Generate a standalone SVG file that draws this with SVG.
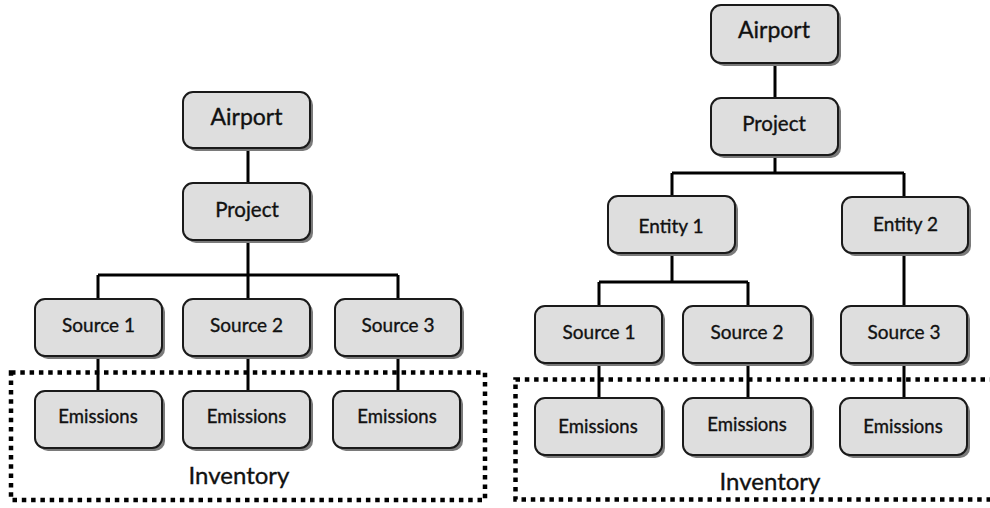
<svg xmlns="http://www.w3.org/2000/svg" width="990" height="508" viewBox="0 0 990 508">
<style>
.box rect.s{fill:#7a7a7a}
.box rect.b{fill:#dedede;stroke:#1a1a1a;stroke-width:2}
.box text,.lbl{font-family:Lato,"Open Sans","Liberation Sans",sans-serif;fill:#111;stroke:#111;stroke-width:0.35;text-anchor:middle}
.t23{font-size:23px}
.t20{font-size:20.5px}
.t18{font-size:19px}
.t185{font-size:18.5px}
.lbl{font-size:24px}
#connectors path{stroke:#000;stroke-width:3;fill:none}
.inv{fill:none;stroke:#000;stroke-width:4.5;stroke-dasharray:4.5 4.8}
</style>
<rect width="990" height="508" fill="#fff"/>
<g id="connectors">
<path d="M248 148V183M248 240V275M98 275H398M98 275V299M248 275V299M398 275V299M98 356V391M248 356V391M398 356V391"/>
<path d="M775 63V98M775 155V173M672 173H904M672 173V196M904 173V197M672 253V282M599 282H748M599 282V306M748 282V306M904 253V306M599 363V398M748 363V398M904 363V398"/>
</g>
<g id="inventory-left"><rect class="inv" x="11" y="372.5" width="474" height="127.5"/><text class="lbl" x="239" y="484">Inventory</text></g>
<g id="inventory-right"><rect class="inv" x="515.5" y="379.5" width="480" height="120"/><text class="lbl" x="770" y="490">Inventory</text></g>
<g id="l-airport" class="box"><rect class="s" x="186" y="95" width="127" height="56" rx="10"/><rect class="b" x="183" y="92" width="127" height="56" rx="10"/><text class="t23" x="246.5" y="125">Airport</text></g>
<g id="l-project" class="box"><rect class="s" x="186" y="186" width="127" height="57" rx="10"/><rect class="b" x="183" y="183" width="127" height="57" rx="10"/><text class="t20" x="247" y="217">Project</text></g>
<g id="l-source1" class="box"><rect class="s" x="38" y="302" width="127" height="57" rx="10"/><rect class="b" x="35" y="299" width="127" height="57" rx="10"/><text class="t18" x="98.5" y="332">Source 1</text></g>
<g id="l-source2" class="box"><rect class="s" x="186" y="302" width="127" height="57" rx="10"/><rect class="b" x="183" y="299" width="127" height="57" rx="10"/><text class="t18" x="246.5" y="332">Source 2</text></g>
<g id="l-source3" class="box"><rect class="s" x="338" y="302" width="126" height="57" rx="10"/><rect class="b" x="335" y="299" width="126" height="57" rx="10"/><text class="t18" x="398" y="332">Source 3</text></g>
<g id="l-em1" class="box"><rect class="s" x="38" y="394" width="127" height="57" rx="10"/><rect class="b" x="35" y="391" width="127" height="57" rx="10"/><text class="t185" x="98" y="423">Emissions</text></g>
<g id="l-em2" class="box"><rect class="s" x="186" y="394" width="127" height="57" rx="10"/><rect class="b" x="183" y="391" width="127" height="57" rx="10"/><text class="t185" x="246.5" y="423">Emissions</text></g>
<g id="l-em3" class="box"><rect class="s" x="336" y="394" width="127" height="57" rx="10"/><rect class="b" x="333" y="391" width="127" height="57" rx="10"/><text class="t185" x="397" y="423">Emissions</text></g>
<g id="r-airport" class="box"><rect class="s" x="714" y="8" width="127" height="58" rx="10"/><rect class="b" x="711" y="5" width="127" height="58" rx="10"/><text class="t23" x="774" y="38">Airport</text></g>
<g id="r-project" class="box"><rect class="s" x="714" y="101" width="127" height="57" rx="10"/><rect class="b" x="711" y="98" width="127" height="57" rx="10"/><text class="t20" x="774" y="131">Project</text></g>
<g id="r-entity1" class="box"><rect class="s" x="611" y="199" width="127" height="57" rx="10"/><rect class="b" x="608" y="196" width="127" height="57" rx="10"/><text class="t18" x="671" y="233">Entity 1</text></g>
<g id="r-entity2" class="box"><rect class="s" x="845" y="200" width="126" height="56" rx="10"/><rect class="b" x="842" y="197" width="126" height="56" rx="10"/><text class="t18" x="905.5" y="231">Entity 2</text></g>
<g id="r-source1" class="box"><rect class="s" x="538" y="309" width="127" height="57" rx="10"/><rect class="b" x="535" y="306" width="127" height="57" rx="10"/><text class="t18" x="599" y="339">Source 1</text></g>
<g id="r-source2" class="box"><rect class="s" x="686" y="309" width="128" height="57" rx="10"/><rect class="b" x="683" y="306" width="128" height="57" rx="10"/><text class="t18" x="747" y="339">Source 2</text></g>
<g id="r-source3" class="box"><rect class="s" x="844" y="309" width="126" height="57" rx="10"/><rect class="b" x="841" y="306" width="126" height="57" rx="10"/><text class="t18" x="904" y="339">Source 3</text></g>
<g id="r-em1" class="box"><rect class="s" x="538" y="401" width="127" height="57" rx="10"/><rect class="b" x="535" y="398" width="127" height="57" rx="10"/><text class="t185" x="598" y="433">Emissions</text></g>
<g id="r-em2" class="box"><rect class="s" x="686" y="401" width="128" height="57" rx="10"/><rect class="b" x="683" y="398" width="128" height="57" rx="10"/><text class="t185" x="747" y="431">Emissions</text></g>
<g id="r-em3" class="box"><rect class="s" x="843" y="401" width="127" height="57" rx="10"/><rect class="b" x="840" y="398" width="127" height="57" rx="10"/><text class="t185" x="903" y="433">Emissions</text></g>
</svg>
